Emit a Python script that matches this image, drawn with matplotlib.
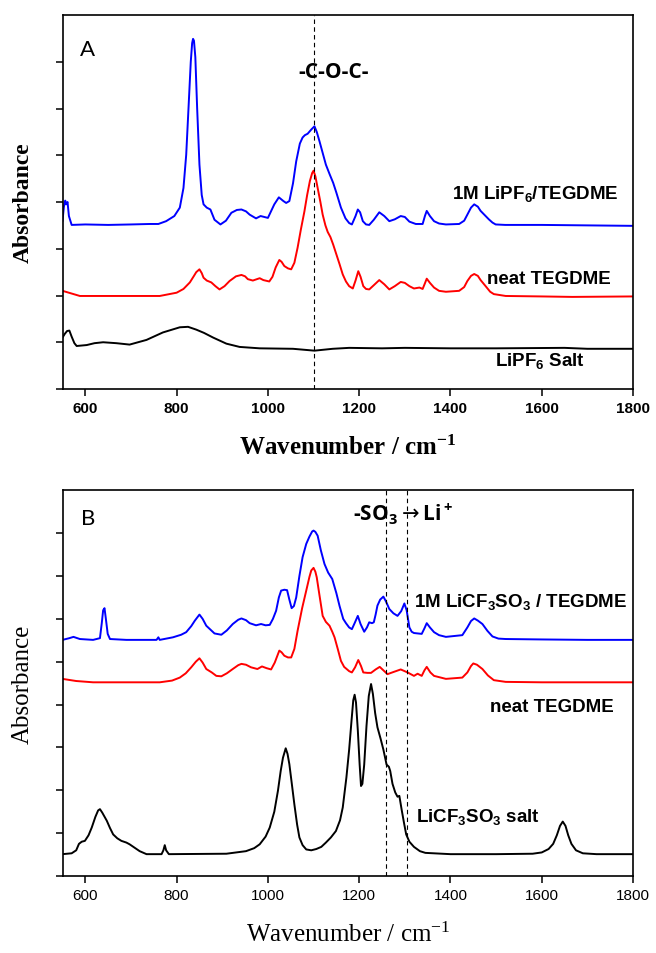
import matplotlib
matplotlib.use("Agg")
import matplotlib.pyplot as plt

plt.rcParams['font.family'] = ['Liberation Sans', 'DejaVu Sans']

# ---- panel A : LiPF6 ----
a_blue_x = [550, 553, 556, 558, 561, 564, 570, 600, 650, 700, 741, 760, 777, 795, 807, 815, 821, 826, 831,
            834, 836, 838, 841, 845, 850, 855, 859, 866, 874, 883, 896, 908, 920, 932, 942, 952, 960, 974, 984,
            992, 1000, 1014, 1024, 1034, 1040, 1047, 1055, 1062, 1070, 1076, 1081, 1087, 1095, 1102, 1107, 1113,
            1120, 1127, 1135, 1143, 1150, 1160, 1170, 1178, 1184, 1192, 1197, 1202, 1208, 1215, 1222, 1232, 1244,
            1255, 1266, 1278, 1291, 1300, 1310, 1324, 1339, 1344, 1348, 1355, 1364, 1375, 1390, 1419, 1430, 1437,
            1445, 1452, 1460, 1466, 1475, 1484, 1492, 1499, 1520, 1600, 1700, 1800]
a_blue_y = [3.6, 3.9, 4.03, 3.95, 4.0, 3.7, 3.51, 3.52, 3.51, 3.52, 3.53, 3.53, 3.59, 3.7, 3.88, 4.3, 5.01, 6.0, 7.0,
            7.4, 7.49, 7.45, 7.1, 6.0, 4.8, 4.15, 3.95, 3.88, 3.84, 3.62, 3.52, 3.6, 3.77, 3.83, 3.84, 3.8, 3.73, 3.65, 3.7,
            3.68, 3.66, 3.95, 4.1, 4.02, 3.98, 4.02, 4.4, 4.87, 5.25, 5.38, 5.43, 5.46, 5.55, 5.62, 5.5, 5.3,
            5.05, 4.8, 4.6, 4.41, 4.2, 3.88, 3.65, 3.55, 3.52, 3.7, 3.84, 3.78, 3.59, 3.52, 3.51, 3.62, 3.78,
            3.7, 3.59, 3.63, 3.7, 3.68, 3.58, 3.53, 3.53, 3.7, 3.81, 3.7, 3.59, 3.54, 3.52, 3.53, 3.6, 3.73,
            3.88, 3.95, 3.9, 3.81, 3.72, 3.63, 3.56, 3.52, 3.51, 3.51, 3.5, 3.49]

a_red_x = [550, 588, 650, 763, 800, 815, 829, 838, 843, 850, 855, 859, 866, 876, 885, 894, 905, 916, 930, 942,
           950, 956, 967, 976, 982, 990, 1003, 1010, 1017, 1025, 1030, 1036, 1044, 1051, 1058, 1065, 1072, 1080,
           1086, 1092, 1097, 1100, 1104, 1109, 1115, 1120, 1126, 1131, 1137, 1143, 1150, 1157, 1164, 1171, 1178,
           1186, 1192, 1198, 1203, 1209, 1215, 1222, 1232, 1244, 1255, 1266, 1278, 1291, 1300, 1310, 1320, 1332,
           1339, 1344, 1348, 1355, 1364, 1375, 1390, 1419, 1430, 1437, 1445, 1452, 1460, 1466, 1477, 1487, 1495,
           1521, 1600, 1667, 1800]
a_red_y = [2.1, 1.99, 1.99, 1.99, 2.06, 2.14, 2.28, 2.42, 2.5, 2.56, 2.48, 2.38, 2.32, 2.28, 2.2, 2.13, 2.2, 2.31, 2.41, 2.44,
           2.41, 2.35, 2.32, 2.35, 2.37, 2.33, 2.3, 2.4, 2.6, 2.76, 2.72, 2.63, 2.58, 2.56, 2.7, 3.02, 3.4, 3.8,
           4.15, 4.45, 4.62, 4.67, 4.55, 4.3, 4.0, 3.73, 3.5, 3.36, 3.25, 3.09, 2.88, 2.67, 2.45, 2.3, 2.2,
           2.15, 2.32, 2.52, 2.4, 2.2, 2.14, 2.13, 2.22, 2.33, 2.24, 2.13, 2.2, 2.29, 2.27, 2.2, 2.15, 2.17,
           2.14, 2.26, 2.36, 2.27, 2.17, 2.1, 2.08, 2.1, 2.18, 2.31, 2.42, 2.46, 2.42, 2.33, 2.2, 2.08, 2.03,
           1.99, 1.98, 1.97, 1.98]

a_black_x = [550, 555, 560, 565, 570, 576, 581, 603, 620, 639, 668, 697, 734, 770, 807, 825, 843, 860, 880, 909,
             938, 982, 1055, 1102, 1142, 1178, 1250, 1300, 1400, 1500, 1650, 1700, 1800]
a_black_y = [1.1, 1.18, 1.24, 1.25, 1.12, 0.98, 0.92, 0.94, 0.98, 1.0, 0.98, 0.95, 1.05, 1.21, 1.32, 1.33, 1.27, 1.2, 1.1, 0.97,
             0.9, 0.87, 0.86, 0.82, 0.86, 0.88, 0.87, 0.88, 0.87, 0.87, 0.88, 0.86, 0.86]

# ---- panel B : LiCF3SO3 ----
b_blue_x = [550, 565, 574, 588, 617, 632, 636, 639, 642, 645, 649, 654, 690, 756, 760, 763, 792, 810, 821, 832,
            840, 850, 857, 865, 875, 883, 898, 910, 923, 935, 942, 952, 960, 974, 985, 995, 1004, 1011, 1018, 1024,
            1029, 1036, 1042, 1047, 1052, 1057, 1062, 1069, 1076, 1084, 1091, 1097, 1100, 1104, 1109, 1116, 1124,
            1132, 1141, 1150, 1157, 1165, 1171, 1178, 1184, 1190, 1197, 1203, 1211, 1217, 1222, 1228, 1232, 1236,
            1240, 1246, 1253, 1259, 1266, 1275, 1284, 1292, 1299, 1304, 1310, 1315, 1320, 1337, 1343, 1348, 1355,
            1364, 1375, 1390, 1426, 1437, 1445, 1452, 1460, 1470, 1481, 1492, 1505, 1521, 1600, 1700, 1800]
b_blue_y = [5.51, 5.55, 5.58, 5.53, 5.51, 5.55, 5.9, 6.2, 6.25, 6.0, 5.65, 5.53, 5.51, 5.51, 5.57, 5.51, 5.57, 5.63, 5.69, 5.83,
            5.96, 6.1, 6.0, 5.84, 5.74, 5.66, 5.63, 5.73, 5.88, 5.98, 6.01, 5.97, 5.9, 5.85, 5.88, 5.85, 5.86, 6.0, 6.19, 6.5,
            6.66, 6.68, 6.67, 6.45, 6.25, 6.3, 6.5, 7.0, 7.44, 7.75, 7.92, 8.04, 8.06, 8.03, 7.94, 7.6, 7.28,
            7.08, 6.93, 6.6, 6.3, 6.0, 5.9, 5.8, 5.76, 5.9, 6.07, 5.88, 5.7, 5.8, 5.92, 5.9, 5.92, 6.1,
            6.31, 6.45, 6.52, 6.4, 6.23, 6.13, 6.07, 6.18, 6.36, 6.2, 5.8, 5.7, 5.67, 5.65, 5.78, 5.9, 5.8,
            5.69, 5.62, 5.58, 5.62, 5.8, 5.95, 6.01, 5.96, 5.88, 5.72, 5.59, 5.54, 5.53, 5.52, 5.51, 5.51]

b_red_x = [550, 580, 617, 700, 763, 790, 807, 820, 832, 842, 850, 857, 865, 877, 887, 898, 910, 923, 935, 942,
           952, 963, 977, 987, 997, 1007, 1015, 1025, 1030, 1036, 1044, 1051, 1058, 1065, 1075, 1084, 1091, 1095,
           1100, 1104, 1107, 1113, 1120, 1127, 1135, 1141, 1146, 1153, 1160, 1167, 1178, 1184, 1191, 1198, 1204,
           1209, 1218, 1226, 1236, 1245, 1253, 1262, 1275, 1291, 1306, 1320, 1328, 1337, 1343, 1348, 1356, 1364,
           1390, 1426, 1437, 1445, 1450, 1458, 1470, 1482, 1495, 1521, 1600, 1800]
b_red_y = [4.6, 4.55, 4.52, 4.52, 4.52, 4.56, 4.63, 4.73, 4.87, 5.0, 5.08, 4.98, 4.83, 4.75, 4.67, 4.66, 4.73, 4.83, 4.92, 4.95,
           4.93, 4.87, 4.83, 4.89, 4.85, 4.82, 4.98, 5.26, 5.22, 5.14, 5.1, 5.1, 5.3, 5.72, 6.25, 6.66, 6.98, 7.13,
           7.19, 7.1, 6.97, 6.55, 6.07, 5.93, 5.84, 5.7, 5.57, 5.3, 5.02, 4.88, 4.78, 4.75, 4.87, 5.04, 4.9,
           4.75, 4.74, 4.74, 4.82, 4.88, 4.8, 4.71, 4.76, 4.82, 4.75, 4.67, 4.72, 4.67, 4.8, 4.88, 4.75, 4.67,
           4.6, 4.63, 4.75, 4.9, 4.96, 4.93, 4.83, 4.68, 4.57, 4.53, 4.52, 4.52]

b_black_x = [550, 570, 580, 586, 592, 599, 607, 614, 622, 628, 632, 637, 647, 654, 661, 670, 679, 690, 697, 708,
             719, 734, 767, 771, 774, 777, 783, 909, 952, 970, 982, 995, 1004, 1014, 1022, 1028, 1033, 1039, 1043,
             1047, 1053, 1058, 1064, 1069, 1076, 1084, 1095, 1106, 1117, 1127, 1138, 1149, 1158, 1164, 1172, 1178,
             1183, 1187, 1190, 1193, 1197, 1201, 1204, 1207, 1211, 1216, 1221, 1226, 1230, 1235, 1240, 1247, 1253,
             1260, 1265, 1268, 1273, 1279, 1284, 1288, 1293, 1298, 1303, 1310, 1320, 1333, 1345, 1400, 1500, 1580,
             1600, 1615, 1625, 1633, 1640, 1646, 1652, 1658, 1665, 1675, 1690, 1720, 1800]
b_black_y = [0.51, 0.53, 0.6, 0.75, 0.8, 0.82, 0.95, 1.13, 1.38, 1.53, 1.56, 1.48, 1.29, 1.12, 0.97, 0.88, 0.82, 0.78, 0.74, 0.66,
             0.58, 0.51, 0.51, 0.6, 0.72, 0.6, 0.51, 0.52, 0.58, 0.65, 0.74, 0.92, 1.13, 1.5, 1.99, 2.45, 2.76, 2.98, 2.85,
             2.61, 2.1, 1.67, 1.2, 0.9, 0.72, 0.62, 0.6, 0.63, 0.68, 0.78, 0.9, 1.05, 1.3, 1.6, 2.3, 2.95,
             3.6, 4.1, 4.23, 4.05, 3.4, 2.6, 2.1, 2.15, 2.6, 3.5, 4.2, 4.48, 4.25, 3.8, 3.47, 3.2, 2.95,
             2.6, 2.55, 2.45, 2.15, 1.95, 1.85, 1.87, 1.55, 1.25, 0.97, 0.8, 0.68, 0.58, 0.54, 0.51, 0.51, 0.52,
             0.55, 0.63, 0.75, 0.95, 1.17, 1.27, 1.17, 0.95, 0.75, 0.6, 0.53, 0.51, 0.51]

x_ticks = [600, 800, 1000, 1200, 1400, 1600, 1800]

fig = plt.figure(figsize=(6.56, 9.54), dpi=100)

#A
ax1 = fig.add_axes([0.0953, 0.5912, 0.8697, 0.3920])
ax1.plot(a_blue_x, a_blue_y, color='blue', lw=1.4)
ax1.plot(a_red_x, a_red_y, color='red', lw=1.4)
ax1.plot(a_black_x, a_black_y, color='black', lw=1.4)
ax1.axvline(1102, color='black', ls=(0, (4, 3)), lw=0.8)
ax1.set_xlim(550, 1800)
ax1.set_ylim(0, 8)
ax1.set_xticks(x_ticks)
ax1.set_yticks(range(8))
ax1.set_yticklabels([])
ax1.tick_params(axis='both', direction='out', length=5, width=1.1, top=False, right=False)
for lab in ax1.get_xticklabels():
    lab.set_fontsize(11)
    lab.set_fontweight('bold')
for s in ax1.spines.values():
    s.set_linewidth(1.2)
ax1.set_ylabel('Absorbance', family='Liberation Serif', fontweight='bold', fontsize=17, labelpad=12)
ax1.set_xlabel(r'Wavenumber / cm$\mathregular{^{-1}}$', family='Liberation Serif', fontweight='bold',
               fontsize=18, labelpad=14)
ax1.text(588, 7.14, 'A', family='Lato', fontsize=16, va='baseline')
ax1.text(1145, 6.8, '-C-O-C-', family='Open Sans', fontweight='bold', fontsize=15, ha='center', va='center')
ax1.text(1404, 4.09, r'1M LiPF$\mathregular{_6}$/TEGDME', fontweight='bold', fontsize=13.5, va='baseline')
ax1.text(1479, 2.27, 'neat TEGDME', fontweight='bold', fontsize=13.5, va='baseline')
ax1.text(1497, 0.51, r'LiPF$\mathregular{_6}$ Salt', fontweight='bold', fontsize=13.5, va='baseline')

#B
ax2 = fig.add_axes([0.0953, 0.0807, 0.8697, 0.4043])
ax2.plot(b_blue_x, b_blue_y, color='blue', lw=1.4)
ax2.plot(b_red_x, b_red_y, color='red', lw=1.4)
ax2.plot(b_black_x, b_black_y, color='black', lw=1.4)
ax2.axvline(1258.5, color='black', ls=(0, (4, 3)), lw=0.8)
ax2.axvline(1304.5, color='black', ls=(0, (4, 3)), lw=0.8)
ax2.set_xlim(550, 1800)
ax2.set_ylim(0, 9)
ax2.set_xticks(x_ticks)
ax2.set_yticks(range(9))
ax2.set_yticklabels([])
ax2.tick_params(axis='both', direction='out', length=5, width=1.1, top=False, right=False, labelsize=11)
for s in ax2.spines.values():
    s.set_linewidth(1.2)
ax2.set_ylabel('Absorbance', family='Liberation Serif', fontsize=18, labelpad=12)
ax2.set_xlabel(r'Wavenumber / cm$\mathregular{^{-1}}$', family='Liberation Serif', fontsize=18, labelpad=14)
ax2.text(590, 8.22, 'B', family='Lato', fontsize=16, va='baseline')
ax2.text(1187, 8.32, r'-SO$\mathregular{_3}$$\rightarrow$Li$\mathregular{^+}$', family='Open Sans',
         fontweight='bold', fontsize=15, va='baseline')
ax2.text(1320, 6.31, r'1M LiCF$\mathregular{_3}$SO$\mathregular{_3}$ / TEGDME', fontweight='bold', fontsize=13.5,
         va='baseline')
ax2.text(1486, 3.86, 'neat TEGDME', fontweight='bold', fontsize=13.5, va='baseline')
ax2.text(1325, 1.29, r'LiCF$\mathregular{_3}$SO$\mathregular{_3}$ salt', fontweight='bold', fontsize=13.5,
         va='baseline')

plt.savefig("out.png", dpi=100)
plt.close()
